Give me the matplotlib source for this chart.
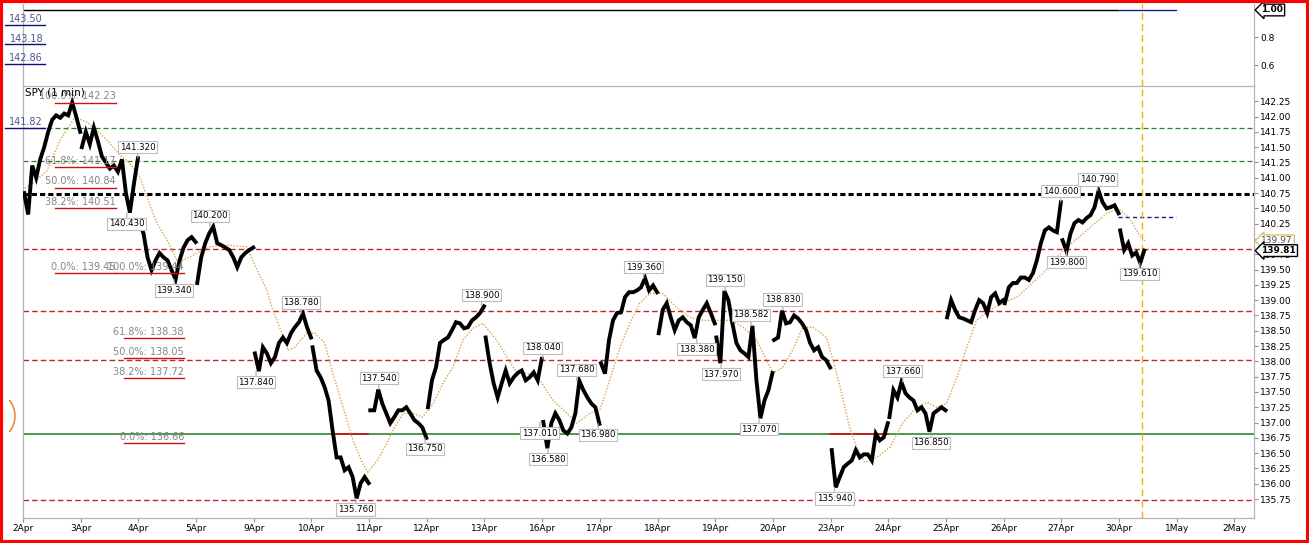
import numpy as np
import matplotlib
matplotlib.use('Agg')
import matplotlib.pyplot as plt
import matplotlib.transforms as mtransforms
from matplotlib.patches import Rectangle, Arc

plt.rcParams['font.family'] = ['DejaVu Sans']

# ---------------- data ----------------
day_labels = ['2Apr', '3Apr', '4Apr', '5Apr', '9Apr', '10Apr', '11Apr', '12Apr',
              '13Apr', '16Apr', '17Apr', '18Apr', '19Apr', '20Apr', '23Apr',
              '24Apr', '25Apr', '26Apr', '27Apr', '30Apr', '1May', '2May']

p_02apr = [140.75, 140.40, 141.20, 141.00, 141.30, 141.50, 141.75, 141.95, 142.02, 141.98, 142.05, 142.02, 142.23, 142.00, 141.75]
p_03apr = [141.50, 141.75, 141.55, 141.82, 141.60, 141.35, 141.25, 141.15, 141.20, 141.10, 141.30, 140.75, 140.43, 140.90, 141.32]
p_04apr = [140.26, 140.09, 139.70, 139.49, 139.65, 139.77, 139.70, 139.65, 139.49, 139.34, 139.65, 139.86, 139.98, 140.03, 139.95]
p_05apr = [139.28, 139.70, 139.93, 140.09, 140.20, 139.93, 139.90, 139.86, 139.82, 139.70, 139.54, 139.70, 139.77, 139.82, 139.86]
p_09apr = [138.13, 137.84, 138.23, 138.13, 137.97, 138.07, 138.30, 138.39, 138.30, 138.46, 138.56, 138.64, 138.78, 138.56, 138.39]
p_10apr = [138.23, 137.85, 137.74, 137.58, 137.36, 136.87, 136.43, 136.43, 136.22, 136.27, 136.11, 135.76, 136.01, 136.11, 136.01]
p_11apr = [137.20, 137.20, 137.54, 137.31, 137.15, 136.99, 137.09, 137.20, 137.20, 137.25, 137.15, 137.04, 136.99, 136.92, 136.75]
p_12apr = [137.25, 137.69, 137.90, 138.30, 138.35, 138.39, 138.51, 138.64, 138.62, 138.54, 138.56, 138.67, 138.72, 138.79, 138.90]
p_13apr = [138.39, 137.97, 137.64, 137.41, 137.64, 137.85, 137.64, 137.74, 137.81, 137.85, 137.69, 137.74, 137.82, 137.69, 138.04]
p_16apr = [137.01, 136.58, 136.99, 137.15, 137.04, 136.87, 136.82, 136.92, 137.15, 137.68, 137.53, 137.41, 137.31, 137.25, 136.98]
p_17apr = [137.97, 137.80, 138.35, 138.67, 138.79, 138.80, 139.05, 139.13, 139.13, 139.16, 139.21, 139.36, 139.16, 139.24, 139.13]
p_18apr = [138.46, 138.84, 138.95, 138.72, 138.51, 138.67, 138.72, 138.64, 138.59, 138.38, 138.72, 138.84, 138.95, 138.79, 138.62]
p_19apr = [138.39, 137.97, 139.15, 139.00, 138.62, 138.30, 138.18, 138.13, 138.07, 138.58, 137.69, 137.07, 137.36, 137.53, 137.81]
p_20apr = [138.35, 138.39, 138.83, 138.62, 138.64, 138.75, 138.70, 138.62, 138.51, 138.30, 138.18, 138.23, 138.07, 138.02, 137.90]
p_23apr = [136.55, 135.94, 136.11, 136.27, 136.33, 136.38, 136.55, 136.43, 136.48, 136.48, 136.38, 136.82, 136.71, 136.76, 136.99]
p_24apr = [137.09, 137.53, 137.41, 137.66, 137.48, 137.41, 137.36, 137.20, 137.25, 137.15, 136.85, 137.15, 137.20, 137.25, 137.20]
p_25apr = [138.72, 139.00, 138.84, 138.72, 138.70, 138.67, 138.64, 138.84, 139.00, 138.95, 138.79, 139.05, 139.11, 138.95, 139.00]
p_26apr = [138.95, 139.21, 139.28, 139.28, 139.37, 139.37, 139.33, 139.44, 139.65, 139.93, 140.14, 140.19, 140.14, 140.11, 140.60]
p_27apr = [139.98, 139.80, 140.09, 140.26, 140.31, 140.27, 140.34, 140.39, 140.52, 140.79, 140.60, 140.50, 140.52, 140.55, 140.42]
p_30apr = [140.14, 139.82, 139.93, 139.73, 139.78, 139.61, 139.81]

sessions = [p_02apr, p_03apr, p_04apr, p_05apr, p_09apr, p_10apr, p_11apr, p_12apr,
            p_13apr, p_16apr, p_17apr, p_18apr, p_19apr, p_20apr, p_23apr, p_24apr,
            p_25apr, p_26apr, p_27apr, p_30apr]

# moving average (time in trading-day units, value)
ma_t = [0.03, 0.17, 0.42, 0.64, 0.90, 1.11, 1.28, 1.46, 1.68, 1.85, 2.03, 2.15, 2.32, 2.50,
        2.67, 2.77, 3.02, 3.24, 3.54, 3.88, 4.06, 4.23, 4.33, 4.49, 4.59, 4.71, 4.92, 5.06,
        5.23, 5.37, 5.55, 5.72, 5.89, 5.98, 6.14, 6.31, 6.41, 6.59, 6.76, 6.93, 7.11, 7.28,
        7.45, 7.63, 7.80, 7.97, 8.21, 8.39, 8.56, 8.73, 8.96, 9.19, 9.43, 9.60, 9.83, 10.00,
        10.17, 10.35, 10.52, 10.69, 10.87, 11.09, 11.33, 11.56, 11.79, 12.03, 12.25, 12.48,
        12.72, 12.89, 13.00, 13.17, 13.34, 13.52, 13.69, 13.93, 14.04, 14.16, 14.33, 14.45,
        14.59, 14.80, 15.03, 15.25, 15.49, 15.67, 15.84, 16.01, 16.19, 16.36, 16.53, 16.76,
        16.98, 17.23, 17.50, 17.80, 18.02, 18.27, 18.54, 18.79, 18.98, 19.19, 19.36, 19.45]
ma_v = [140.83, 140.91, 141.12, 141.61, 141.99, 141.91, 141.78, 141.61, 141.37, 141.24, 141.01,
        140.68, 140.26, 139.98, 139.65, 139.65, 139.77, 139.87, 139.90, 139.87, 139.49, 139.16,
        138.84, 138.46, 138.18, 138.23, 138.46, 138.46, 138.30, 137.81, 137.25, 136.71, 136.33,
        136.19, 136.38, 136.66, 136.87, 137.15, 137.15, 137.09, 137.31, 137.64, 137.90, 138.35,
        138.54, 138.62, 138.35, 138.07, 137.81, 137.81, 137.69, 137.36, 137.15, 136.99, 137.15,
        137.20, 137.69, 138.23, 138.62, 138.95, 139.11, 139.11, 138.88, 138.72, 138.67, 138.67,
        138.67, 138.56, 138.35, 138.02, 137.81, 137.90, 138.18, 138.56, 138.56, 138.39, 138.02,
        137.60, 136.92, 136.60, 136.35, 136.43, 136.60, 136.99, 137.25, 137.33, 137.25, 137.31,
        137.74, 138.23, 138.67, 138.84, 138.95, 139.05, 139.28, 139.55, 139.80, 140.00, 140.22,
        140.42, 140.50, 140.33, 140.05, 139.97]

# swing point labels: time, value, +1 = high (label above), -1 = low (label below)
swing_t = [1.99, 1.80, 3.24, 2.62, 4.82, 4.04, 6.17, 5.77, 6.97, 7.95, 9.01, 8.96, 9.10,
           9.60, 9.97, 10.76, 12.17, 11.68, 12.10, 12.62, 12.76, 13.17, 14.07, 15.25, 15.74,
           17.99, 18.09, 18.63, 19.36]
swing_v = [141.32, 140.43, 140.20, 139.34, 138.78, 137.84, 137.54, 135.76, 136.75, 138.90,
           138.04, 137.01, 136.58, 137.68, 136.98, 139.36, 139.15, 138.38, 137.97, 138.582,
           137.07, 138.83, 135.94, 137.66, 136.85, 140.60, 139.80, 140.79, 139.61]
swing_dir = [1, -1, 1, -1, 1, -1, 1, -1, -1, 1, 1, -1, -1, 1, -1, 1, 1, -1, -1, 1, -1, 1,
             -1, 1, -1, 1, -1, 1, -1]

# fibonacci retracement sets
fib_pct = ['100.0%', '61.8%', '50.0%', '38.2%', '0.0%']
fib_a_val = [142.23, 141.17, 140.84, 140.51, 139.45]
fib_b_val = [139.44, 138.38, 138.05, 137.72, 136.66]

# horizontal levels
red_levels = [139.84, 138.83, 138.02, 135.73]
green_dash_levels = [141.82, 141.28]
black_level = 140.73
green_level = 136.82
blue_level = 140.36
left_levels = [143.50, 143.18, 142.86, 141.82]
last_price = 139.81
ma_last = 139.97
indicator_value = 1.00
cursor_t = 19.40

# ---------------- figure ----------------
fig = plt.figure(figsize=(13.09, 5.43), dpi=100, facecolor='white')
L, W = 23 / 1309, (1254 - 23) / 1309
ax_top = fig.add_axes([L, (543 - 86) / 543, W, (86 - 4) / 543])
ax = fig.add_axes([L, (543 - 518) / 543, W, (518 - 86) / 543], sharex=ax_top)

ax.set_xlim(0, 21.34)
ax.set_ylim(135.44, 142.50)
ax_top.set_ylim(0.4473, 1.0436)

spine_c = '#b4b4b4'
for a in (ax, ax_top):
    for s in a.spines.values():
        s.set_color(spine_c)
        s.set_linewidth(0.9)
    a.yaxis.tick_right()
    a.tick_params(axis='both', colors='#909090', labelcolor='black', length=3,
                  width=0.8, labelsize=6.5, pad=1.5)
ax_top.spines['top'].set_visible(False)
ax_top.spines['bottom'].set_visible(False)
ax_top.tick_params(axis='x', bottom=False, labelbottom=False)

ax.set_yticks(np.arange(135.75, 142.26, 0.25))
ax.yaxis.set_major_formatter(matplotlib.ticker.FormatStrFormatter('%.2f'))
ax.set_xticks(range(len(day_labels)))
ax.set_xticklabels(day_labels)
ax_top.set_yticks([0.6, 0.8])
ax_top.set_yticklabels(['0.6', '0.8'])

# horizontal levels
for v in red_levels:
    ax.axhline(v, color='#c0282d', lw=1.0, ls=(0, (4, 2.2)), zorder=1)
for v in green_dash_levels:
    ax.axhline(v, color='#2a7a2a', lw=0.9, ls=(0, (4, 2.4)), zorder=1)
ax.axhline(black_level, color='black', lw=2.2, ls=(0, (1.7, 1.0)), zorder=1)
ax.axhline(green_level, color='#1e7b1e', lw=1.1, zorder=1)
ax.plot([5.36, 5.98], [green_level, green_level], color='#d01010', lw=1.2, zorder=1)
ax.plot([13.99, 15.00], [green_level, green_level], color='#d01010', lw=1.2, zorder=1)
ax.plot([18.98, 19.98], [blue_level, blue_level], color='#1a1aa0', lw=1.0,
        ls=(0, (3, 2.2)), zorder=1)

# cursor line
for a in (ax, ax_top):
    a.axvline(cursor_t, color='#f2b400', lw=1.0, ls=(0, (5, 3)), zorder=2)

# top indicator
ax_top.plot([0, 18.96], [indicator_value, indicator_value], color='black', lw=1.0)
ax_top.plot([18.96, 19.98], [indicator_value, indicator_value], color='#1a1a8a', lw=1.0)

# moving average
ax.plot(ma_t, ma_v, color='#d9a44a', lw=1.0, ls=(0, (1, 1.2)), zorder=3)

# price sessions
step = 1 / 14.4
for d, vals in enumerate(sessions):
    t = d + 0.02 + step * np.arange(len(vals))
    ax.plot(t, vals, color='black', lw=2.8, solid_joinstyle='miter', zorder=4)

# fibonacci labels
def fib(vals, x_end, x_starts):
    for pct, v, x0 in zip(fib_pct, vals, x_starts):
        ax.plot([x0, x_end], [v, v], color='#d01010', lw=1.0, zorder=5)
        ax.annotate(f'{pct}: {v:.2f}', xy=(x_end, v), xytext=(0, 0.8),
                    textcoords='offset points', ha='right', va='bottom',
                    fontsize=7, color='#858585', zorder=5)

fib(fib_a_val, 1.61, [0.55] * 5)
fib(fib_b_val, 2.79, [1.61, 1.75, 1.75, 1.75, 1.75])

# left-side price levels
for v in left_levels:
    ax.plot([-0.31, 0.38], [v, v], color='#10107a', lw=1.0, clip_on=False, zorder=6)
    ax.annotate(f'{v:.2f}', xy=(0.35, v), xytext=(0, 0.6), textcoords='offset points',
                ha='right', va='bottom', fontsize=7, color='#4a5590',
                annotation_clip=False, zorder=6)

# swing labels
for t, v, dr in zip(swing_t, swing_v, swing_dir):
    ax.annotate(f'{v:.3f}', xy=(t, v), xytext=(0, 8.0 * dr), textcoords='offset points',
                ha='center', va='center', fontsize=6.2, color='black', zorder=7,
                bbox=dict(boxstyle='square,pad=0.18', fc='white', ec='#bdbdbd', lw=0.8),
                arrowprops=dict(arrowstyle='-', color='#a8a8a8', lw=0.8,
                                shrinkA=0, shrinkB=0))

ax.text(0.002, 0.997, 'SPY (1 min)', transform=ax.transAxes, ha='left', va='top',
        fontsize=7.5, color='black', zorder=6)

# right-side value markers
tr = mtransforms.blended_transform_factory(ax.transAxes, ax.transData)
ax.text(1.006, ma_last, f'{ma_last:.2f}', transform=tr, ha='left', va='center',
        fontsize=6.5, color='#505050', clip_on=False, zorder=9,
        bbox=dict(boxstyle='larrow,pad=0.15', fc='white', ec='#d8c070', lw=1.0))
ax.text(1.006, last_price, f'{last_price:.2f}', transform=tr, ha='left', va='center',
        fontsize=6.5, fontweight='bold', color='black', clip_on=False, zorder=10,
        bbox=dict(boxstyle='larrow,pad=0.15', fc='white', ec='black', lw=1.0))
trt = mtransforms.blended_transform_factory(ax_top.transAxes, ax_top.transData)
ax_top.text(1.006, indicator_value, f'{indicator_value:.2f}', transform=trt, ha='left',
            va='center', fontsize=6.5, fontweight='bold', color='black', clip_on=False,
            zorder=10, bbox=dict(boxstyle='larrow,pad=0.15', fc='white', ec='black', lw=1.0))

# small orange arc at the left edge
fig.add_artist(Arc((-0.10, 1.27), 0.5, 0.5, theta1=-40, theta2=40,
                   transform=fig.dpi_scale_trans, color='#e87722', lw=1.0))

# red frame
fig.add_artist(Rectangle((0, 0), 1, 1, transform=fig.transFigure, fill=False,
                         edgecolor='#ff0000', lw=4.4, clip_on=False))

fig.savefig('out.png', dpi=100, facecolor='white')
